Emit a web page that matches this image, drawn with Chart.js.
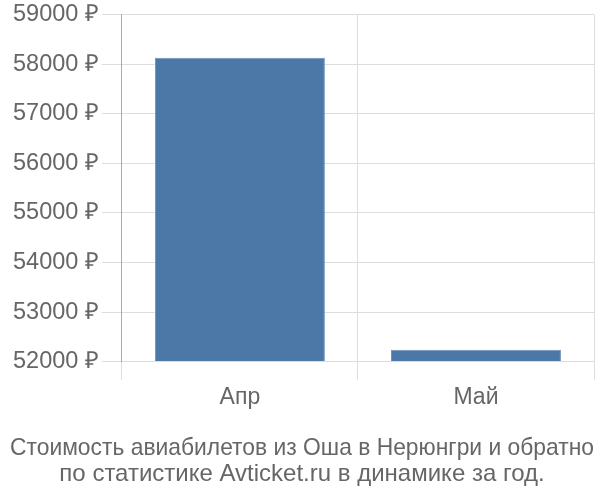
<!DOCTYPE html>
<html>
<head>
<meta charset="utf-8">
<script src="https://cdn.jsdelivr.net/npm/chart.js@4"></script>
<style>
  html, body { margin: 0; padding: 0; background: #fff; }
  #wrap { width: 600px; height: 500px; }
</style>
</head>
<body>
<div id="wrap"><canvas id="chart"></canvas></div>
<script>
// --- Data ---
const months = ["Апр", "Май"];
const prices = [58130, 52240];
const yTicks = [52000, 53000, 54000, 55000, 56000, 57000, 58000, 59000];
const titleLines = [
  "Стоимость авиабилетов из Оша в Нерюнгри и обратно",
  "по статистике Avticket.ru в динамике за год.",
];

const fontFamily = "'Liberation Sans', Arial, sans-serif";

// --- Chart ---
const ctx = document.getElementById("chart").getContext("2d");
new Chart(ctx, {
  type: "bar",
  data: {
    labels: months,
    datasets: [
      {
        data: prices,
        backgroundColor: "#4c78a8",
        borderColor: "#6f93bd",
        borderWidth: 1,
        categoryPercentage: 0.72,
        barPercentage: 1,
        base: yTicks[0],
      },
    ],
  },
  options: {
    responsive: true,
    maintainAspectRatio: false,
    animation: false,
    layout: { padding: { top: 0, right: 6, left: 10, bottom: 13 } },
    plugins: {
      legend: { display: false },
      tooltip: { enabled: false },
      title: {
        display: true,
        position: "bottom",
        text: titleLines,
        color: "#666",
        font: { family: fontFamily, size: 24, weight: "normal", lineHeight: 1.08 },
        padding: { top: 20, bottom: 0 },
      },
    },
    scales: {
      x: {
        grid: {
          offset: true,
          color: "#dddddd",
          tickLength: 18,
        },
        border: { display: false },
        ticks: {
          color: "#666",
          font: { family: fontFamily, size: 23 },
          padding: 4,
        },
      },
      y: {
        min: yTicks[0],
        max: yTicks[yTicks.length - 1],
        grid: { color: "#dddddd", tickLength: 20 },
        border: { display: true, color: "#aaaaaa" },
        afterBuildTicks: (axis) => {
          axis.ticks = yTicks.map((v) => ({ value: v }));
        },
        ticks: {
          color: "#666",
          font: { family: fontFamily, size: 23.5, lineHeight: 1.0 },
          padding: 3,
          callback: (v) => v + " ₽",
        },
      },
    },
  },
});
</script>
</body>
</html>
